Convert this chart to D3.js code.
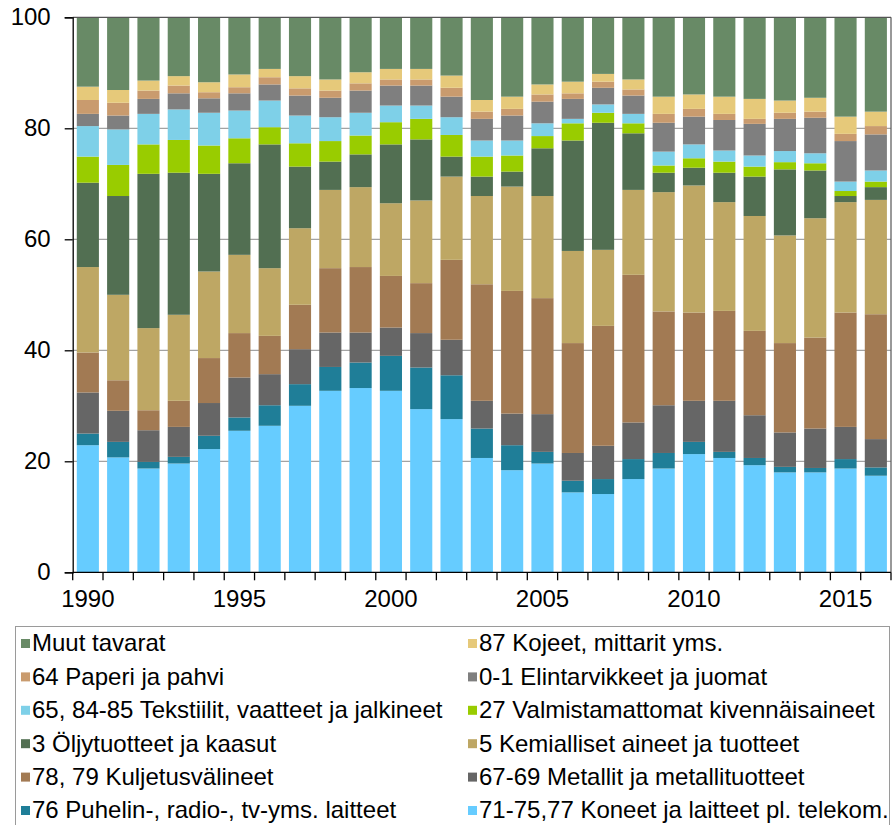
<!DOCTYPE html>
<html>
<head>
<meta charset="utf-8">
<script src="https://cdn.jsdelivr.net/npm/d3@7"></script>
<style>
  html, body { margin: 0; padding: 0; background: #fff; }
  svg { display: block; font-family: "Liberation Sans", Arial, sans-serif; }
</style>
</head>
<body>
<svg id="chart" width="894" height="825"></svg>
<script>
// ---------- DATA ----------
const years = [1990,1991,1992,1993,1994,1995,1996,1997,1998,1999,2000,2001,2002,2003,2004,2005,2006,2007,2008,2009,2010,2011,2012,2013,2014,2015,2016];
const yTicks = [0, 20, 40, 60, 80, 100];
const xTickLabels = [1990, 1995, 2000, 2005, 2010, 2015];

// series, stacked bottom -> top
const koneet      = [22.9,20.7,18.7,19.6,22.2,25.5,26.4,30.0,32.7,33.2,32.7,29.4,27.6,20.6,18.4,19.6,14.4,14.1,16.8,18.7,21.3,20.6,19.3,18.0,18.0,18.7,17.4];
const puhelin     = [2.1,2.8,1.2,1.2,2.4,2.4,3.7,3.9,4.3,4.6,6.3,7.5,7.9,5.3,4.5,2.1,2.1,2.7,3.6,2.8,2.2,1.1,1.3,1.0,0.8,1.7,1.5];
const metallit    = [7.4,5.6,5.7,5.4,5.9,7.2,5.6,6.3,6.2,5.4,5.1,6.2,6.4,5.0,5.7,6.8,5.0,6.0,6.6,8.6,7.4,9.2,7.7,6.2,7.1,5.8,5.1];
const kuljetus    = [7.2,5.5,3.6,4.7,8.1,8.0,6.9,8.0,11.6,11.8,9.3,9.0,14.4,21.0,22.1,20.9,19.8,21.6,26.6,16.9,15.9,16.2,15.2,16.1,16.4,20.6,22.5];
const kemialliset = [15.4,15.4,14.8,15.5,15.6,14.1,12.2,13.8,14.1,14.4,13.1,14.9,15.0,15.9,18.8,18.4,16.6,13.7,15.3,21.5,22.9,19.6,20.7,19.4,21.5,19.9,20.6];
const oljy        = [15.2,17.8,27.8,25.6,17.6,16.5,22.3,11.1,5.1,5.9,10.6,11.0,3.6,3.5,2.7,8.6,19.9,22.9,10.2,3.5,3.2,5.3,7.1,11.9,8.6,1.1,2.3];
const valmist     = [4.7,5.6,5.3,5.9,5.1,4.5,3.1,4.2,3.7,3.4,4.0,3.7,3.9,3.6,2.9,2.2,3.1,1.8,1.8,1.3,1.7,2.0,1.8,1.3,1.3,0.9,1.0];
const tekstiilit  = [5.5,6.4,5.5,5.5,5.9,5.0,4.8,5.0,4.3,4.1,3.0,2.4,3.2,2.9,2.7,2.3,0.8,1.5,1.7,2.5,2.5,2.0,2.0,2.0,1.8,1.7,2.0];
const elintarv    = [2.2,2.5,2.7,2.9,2.6,3.1,2.9,3.6,3.5,4.0,3.6,3.6,3.7,3.9,4.5,3.9,3.6,3.0,3.3,5.2,5.0,5.5,5.7,5.8,6.4,7.3,6.5];
const paperi      = [2.5,2.3,1.5,1.4,1.1,1.1,1.3,1.3,1.3,1.3,1.1,1.1,1.6,1.3,1.2,1.3,1.0,1.1,1.1,1.6,1.4,1.1,0.9,1.1,1.1,1.3,1.5];
const kojeet      = [2.4,2.3,1.8,1.7,1.8,2.3,1.5,2.2,2.0,2.0,1.9,1.9,2.2,2.1,2.2,1.8,2.1,1.4,1.8,3.1,2.6,3.1,3.6,2.2,2.5,3.1,2.6];
const muut        = [12.5,13.1,11.4,10.6,11.7,10.3,9.3,10.6,11.2,9.9,9.3,9.3,10.5,14.9,14.3,12.1,11.6,10.2,11.2,14.3,13.9,14.3,14.7,15.0,14.5,17.9,17.0];

const seriesNames = [
  "71-75,77 Koneet ja laitteet pl. telekom.",
  "76 Puhelin-, radio-, tv-yms. laitteet",
  "67-69 Metallit ja metallituotteet",
  "78, 79 Kuljetusvälineet",
  "5 Kemialliset aineet ja tuotteet",
  "3 Öljytuotteet ja kaasut",
  "27 Valmistamattomat kivennäisaineet",
  "65, 84-85 Tekstiilit, vaatteet ja jalkineet",
  "0-1 Elintarvikkeet ja juomat",
  "64 Paperi ja pahvi",
  "87 Kojeet, mittarit yms.",
  "Muut tavarat"
];
const seriesValues = [koneet, puhelin, metallit, kuljetus, kemialliset, oljy, valmist, tekstiilit, elintarv, paperi, kojeet, muut];
const seriesColors = ["#66CCFF","#1F7E98","#666666","#A27A53","#BEA764","#526F52","#99CC00","#7ED0E8","#7F7F7F","#C99B6E","#E6C97A","#688A66"];

// legend order (row-major, two columns)
const legendOrder = [11, 10, 9, 8, 7, 6, 5, 4, 3, 2, 1, 0];

// ---------- CHART ----------
const svg = d3.select("#chart");
const plot = { left: 72.7, right: 891, top: 17.3, bottom: 572.3 };

const x = d3.scaleBand().domain(years).range([plot.left, plot.right]).paddingInner(0.27).paddingOuter(0.135);
const y = d3.scaleLinear().domain([0, 100]).range([plot.bottom, plot.top]);

const keys = seriesNames.map((d, i) => "s" + i);
const table = years.map((yr, j) => {
  const row = { year: yr };
  seriesValues.forEach((arr, i) => row["s" + i] = arr[j]);
  return row;
});
const stacked = d3.stack().keys(keys)(table);

// gridlines
svg.append("g").selectAll("line").data([20, 40, 60, 80]).join("line")
  .attr("x1", plot.left).attr("x2", plot.right)
  .attr("y1", d => y(d)).attr("y2", d => y(d))
  .attr("stroke", "#8c8c8c").attr("stroke-width", 1);

// bars
svg.append("g").selectAll("g").data(stacked).join("g")
  .attr("fill", (d, i) => seriesColors[i])
  .selectAll("rect").data(d => d).join("rect")
  .attr("x", d => x(d.data.year))
  .attr("width", x.bandwidth())
  .attr("y", d => y(d[1]))
  .attr("height", d => y(d[0]) - y(d[1]));

// plot border top & right
svg.append("line").attr("x1", plot.left).attr("x2", plot.right).attr("y1", plot.top).attr("y2", plot.top)
  .attr("stroke", "#555").attr("stroke-width", 1.2);
svg.append("line").attr("x1", plot.right).attr("x2", plot.right).attr("y1", plot.top).attr("y2", plot.bottom)
  .attr("stroke", "#555").attr("stroke-width", 1.2);

// y axis
const yAxis = svg.append("g").attr("transform", `translate(${plot.left},0)`)
  .call(d3.axisLeft(y).tickValues(yTicks).tickSize(8).tickPadding(14));
yAxis.select(".domain").attr("stroke", "#000").attr("stroke-width", 1.3);
yAxis.selectAll(".tick line").attr("stroke", "#000").attr("stroke-width", 1.3);
yAxis.selectAll("text").attr("font-size", 24).attr("fill", "#000")
  .attr("font-family", "'Liberation Sans', Arial, sans-serif");

// x axis baseline + boundary ticks
const step = x.step();
const boundaries = d3.range(years.length + 1).map(i => plot.left + i * step);
const xg = svg.append("g");
xg.append("line").attr("x1", plot.left).attr("x2", plot.right).attr("y1", plot.bottom).attr("y2", plot.bottom)
  .attr("stroke", "#000").attr("stroke-width", 1.3);
xg.selectAll("line.tk").data(boundaries).join("line").attr("class", "tk")
  .attr("x1", d => d).attr("x2", d => d).attr("y1", plot.bottom).attr("y2", plot.bottom + 8)
  .attr("stroke", "#000").attr("stroke-width", 1.3);

// x labels via axis
const xAxis = svg.append("g").attr("transform", `translate(0,${plot.bottom})`)
  .call(d3.axisBottom(x).tickValues(xTickLabels).tickSize(0).tickPadding(18));
xAxis.select(".domain").remove();
xAxis.selectAll("text").attr("font-size", 24).attr("fill", "#000")
  .attr("font-family", "'Liberation Sans', Arial, sans-serif");

// ---------- LEGEND ----------
const legend = svg.append("g");
legend.append("rect").attr("x", 15.5).attr("y", 626.5).attr("width", 874).attr("height", 210)
  .attr("fill", "#fff").attr("stroke", "#9a9a9a").attr("stroke-width", 1);

const colX = [32, 479];
const rowY0 = 643, rowDY = 33.4;
legendOrder.forEach((si, k) => {
  const col = k % 2, row = Math.floor(k / 2);
  const gx = colX[col], gy = rowY0 + row * rowDY;
  legend.append("rect").attr("x", gx - 11).attr("y", gy - 4).attr("width", 9).attr("height", 9)
    .attr("fill", seriesColors[si]);
  legend.append("text").attr("x", gx).attr("y", gy).attr("dy", "0.35em")
    .attr("font-size", 24).attr("fill", "#000").text(seriesNames[si]);
});
</script>
</body>
</html>
